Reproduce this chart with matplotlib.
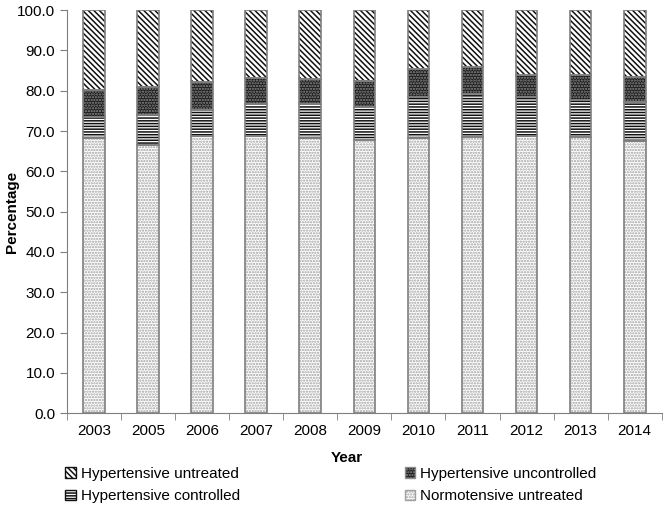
import numpy as np
import matplotlib.pyplot as plt
import matplotlib.patches as mpatches

plt.rcParams['font.family'] = ['Liberation Sans', 'DejaVu Sans']
plt.rcParams['font.size'] = 11
plt.rcParams['hatch.linewidth'] = 1.1

years = ['2003', '2005', '2006', '2007', '2008', '2009', '2010', '2011', '2012', '2013', '2014']
normo_untreated = [68.2, 66.5, 68.7, 68.7, 68.2, 67.9, 68.4, 68.6, 68.7, 68.6, 67.6]
hyp_controlled = [5.3, 7.6, 6.5, 8.1, 8.4, 8.1, 10.1, 10.6, 9.8, 9.1, 9.6]
hyp_uncontrolled = [6.6, 6.9, 6.9, 6.4, 6.3, 6.4, 6.9, 6.6, 5.4, 6.2, 6.2]
hyp_untreated = [19.9, 19.0, 17.9, 16.8, 17.1, 17.6, 14.6, 14.2, 16.1, 16.1, 16.6]

# (face, hatch colour, hatch) per series
styles = {
    'Normotensive untreated': ('white', '#a0a0a0', '......'),
    'Hypertensive controlled': ('white', '#111111', '------'),
    'Hypertensive uncontrolled': ('#1a1a1a', '#8c8c8c', '......'),
    'Hypertensive untreated': ('white', '#111111', '\\\\\\\\\\\\'),
}

fig = plt.figure(figsize=(6.66, 5.07), dpi=100)
ax = fig.add_axes([0.1006, 0.185, 0.893, 0.795])

x = np.arange(len(years))
w = 0.4
outline = '#7f7f7f'

b1 = np.array(normo_untreated)
b2 = b1 + np.array(hyp_controlled)
b3 = b2 + np.array(hyp_uncontrolled)

series = [('Normotensive untreated', normo_untreated, 0),
          ('Hypertensive controlled', hyp_controlled, b1),
          ('Hypertensive uncontrolled', hyp_uncontrolled, b2),
          ('Hypertensive untreated', hyp_untreated, b3)]

# hatch colour comes from edgecolor, so draw outlines separately
for name, vals, bot in series:
    fc, hc, h = styles[name]
    ax.bar(x, vals, w, bottom=bot, color=fc, edgecolor=hc, hatch=h, linewidth=0)
for name, vals, bot in series:
    ax.bar(x, vals, w, bottom=bot, fill=False, edgecolor=outline, linewidth=1.2)

ax.set_xlim(-0.5, len(years) - 0.5)
ax.set_ylim(0, 100)
ax.set_yticks(np.arange(0, 101, 10))
ax.set_yticklabels(['%.1f' % v for v in np.arange(0, 101, 10)])
ax.set_xticks(x)
ax.set_xticklabels(years)
ax.set_xticks(np.arange(-0.5, len(years), 1), minor=True)
ax.tick_params(axis='x', which='major', length=0, pad=8)
ax.tick_params(axis='x', which='minor', length=5, color=outline)
ax.tick_params(axis='y', length=5, color=outline)

for s in ['top', 'right']:
    ax.spines[s].set_visible(False)
for s in ['left', 'bottom']:
    ax.spines[s].set_color(outline)

ax.set_ylabel('Percentage', fontweight='bold')
ax.set_xlabel('Year', fontweight='bold')
ax.yaxis.set_label_coords(-0.08, 0.5)
ax.xaxis.set_label_coords(0.47, -0.095)

order = ['Hypertensive untreated', 'Hypertensive controlled',
         'Hypertensive uncontrolled', 'Normotensive untreated']
handles = []
for name in order:
    fc, hc, h = styles[name]
    handles.append(mpatches.Patch(facecolor=fc, edgecolor=hc, hatch=h, label=name))
fig.legend(handles=handles, ncol=2, loc='upper left', bbox_to_anchor=(0.082, 0.1),
           frameon=False, handlelength=0.7, handleheight=0.7, handletextpad=0.3,
           columnspacing=10.8, labelspacing=0.55, borderpad=0.2)

plt.savefig('out.png', dpi=100)
